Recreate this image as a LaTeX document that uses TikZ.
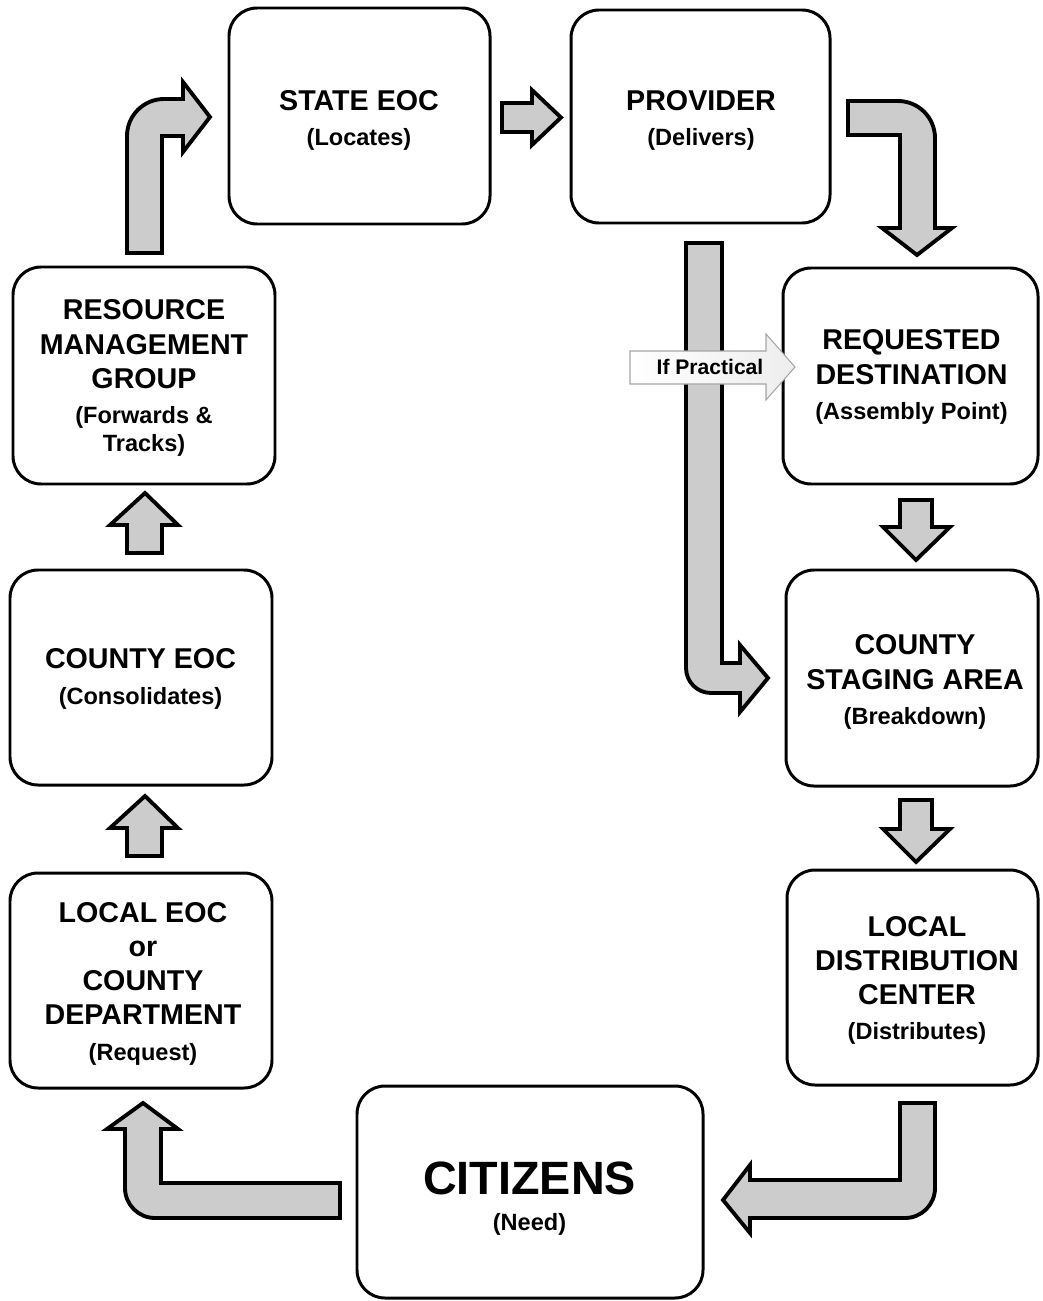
\documentclass[tikz,border=0pt]{standalone}
\usepackage{fontspec}
\setmainfont{Liberation Sans}
\usetikzlibrary{fit}
\newcommand{\boxfont}{\bfseries\fontsize{16.3}{19.5}\selectfont}
\newcommand{\notefont}{\fontsize{13.4}{16}\selectfont}
\newcommand{\bigfont}{\bfseries\fontsize{26.6}{18.2}\selectfont}
\newcommand{\tagfont}{\bfseries\fontsize{12}{14}\selectfont}
\begin{document}
\begin{tikzpicture}[x=0.02cm, y=-0.02cm,
  stage/.style={draw, line width=1.7pt, rounded corners=0.56cm, fill=white, inner sep=0pt},
  caption/.style={align=center, font=\boxfont, inner sep=0pt},
  flow/.style={draw, line width=2.2pt, fill=gray!40, line join=miter},
  hint/.style={draw=gray!70, line width=0.6pt, left color=white, right color=gray!14}]

\fill[white] (0,0) rectangle (1042,1301);
\useasboundingbox (0,0) rectangle (1042,1301);

% ---- stages of the supply cycle ----
\node[stage, fit={(229,8) (490,224)}]     (state)    {};
\node[stage, fit={(571,10) (830,223)}]    (provider) {};
\node[stage, fit={(13,267) (275,484)}]    (rmg)      {};
\node[stage, fit={(783,268) (1038,484)}]  (dest)     {};
\node[stage, fit={(10,570) (272,785)}]    (county)   {};
\node[stage, fit={(786,570) (1038,786)}]  (staging)  {};
\node[stage, fit={(10,873) (272,1088)}]   (local)    {};
\node[stage, fit={(787,870) (1038,1085)}] (ldc)      {};
\node[stage, fit={(357,1086) (703,1298)}] (citizens) {};

% ---- captions ----
\node[caption] (state-t) at (359,120.5) {STATE EOC\\[0.5pt]{\notefont (Locates)}};
\node[caption] (provider-t) at (701,120.5) {PROVIDER\\[0.5pt]{\notefont (Delivers)}};
\node[caption] (rmg-t) at (144,378) {RESOURCE\\MANAGEMENT\\GROUP\\[0.5pt]{\notefont (Forwards \&}\\[-3.6pt]{\notefont Tracks)}};
\node[caption] (dest-t) at (911.5,377) {REQUESTED\\DESTINATION\\[0.5pt]{\notefont (Assembly Point)}};
\node[caption] (county-t) at (140.5,679) {COUNTY EOC\\[0.5pt]{\notefont (Consolidates)}};
\node[caption] (staging-t) at (915,682) {COUNTY\\STAGING AREA\\[0.5pt]{\notefont (Breakdown)}};
\node[caption] (local-t) at (143,983.5) {LOCAL EOC\\or\\COUNTY\\DEPARTMENT\\[0.5pt]{\notefont (Request)}};
\node[caption] (ldc-t) at (917,980.5) {LOCAL\\DISTRIBUTION\\CENTER\\[0.5pt]{\notefont (Distributes)}};
\node[caption, font=\bigfont] (citizens-t) at (529.5,1199) {CITIZENS\\[2.2pt]{\notefont (Need)}};

% ---- block arrows ----
% resource management group -> state EOC
\path[flow] (127,253) -- (127,136) arc[start angle=180, end angle=90, radius=0.74cm]
  -- (183,99) -- (183,82) -- (210,117) -- (183,152) -- (183,136) -- (162,136) -- (162,253) -- cycle;
% state EOC -> provider
\path[flow] (502,103) -- (532,103) -- (532,90) -- (561,117.5) -- (532,145) -- (532,132) -- (502,132) -- cycle;
% provider -> requested destination
\path[flow] (848,101) -- (898,101) arc[start angle=90, end angle=0, radius=0.74cm]
  -- (935,228) -- (952,228) -- (917,255) -- (882,228) -- (900,228) -- (900,135) -- (848,135) -- cycle;
% provider -> county staging area (direct route)
\path[flow] (686,243) -- (686,668) arc[start angle=180, end angle=270, radius=0.5cm]
  -- (740,693) -- (740,712) -- (768,678) -- (740,645) -- (740,663) -- (722,663) -- (722,243) -- cycle;
% "if practical" hint into the requested destination
\path[hint] (630,351) -- (766,351) -- (766,334) -- (795,367) -- (766,400) -- (766,384) -- (630,384) -- cycle;
\node[font=\tagfont, inner sep=0pt] (practical) at (710,367) {If Practical};
% requested destination -> staging area
\path[flow] (900,500) -- (932,500) -- (932,527) -- (950,527) -- (916,560) -- (883,527) -- (900,527) -- cycle;
% staging area -> local distribution center
\path[flow] (900,800) -- (932,800) -- (932,829) -- (950,829) -- (916,862) -- (883,829) -- (900,829) -- cycle;
% county EOC -> resource management group
\path[flow] (127,553) -- (127,525) -- (110,525) -- (145,493) -- (178,525) -- (162,525) -- (162,553) -- cycle;
% local EOC -> county EOC
\path[flow] (127,856) -- (127,828) -- (110,828) -- (145,796) -- (178,828) -- (162,828) -- (162,856) -- cycle;
% local distribution center -> citizens
\path[flow] (900,1103) -- (935,1103) -- (935,1188) arc[start angle=0, end angle=-90, radius=0.6cm]
  -- (750,1218) -- (750,1233) -- (723,1200) -- (750,1165) -- (750,1180) -- (900,1180) -- cycle;
% citizens -> local EOC
\path[flow] (340,1183) -- (340,1218) -- (155,1218) arc[start angle=270, end angle=180, radius=0.6cm]
  -- (125,1129) -- (107,1129) -- (143,1103) -- (178,1129) -- (161,1129) -- (161,1183) -- cycle;
\end{tikzpicture}
\end{document}
